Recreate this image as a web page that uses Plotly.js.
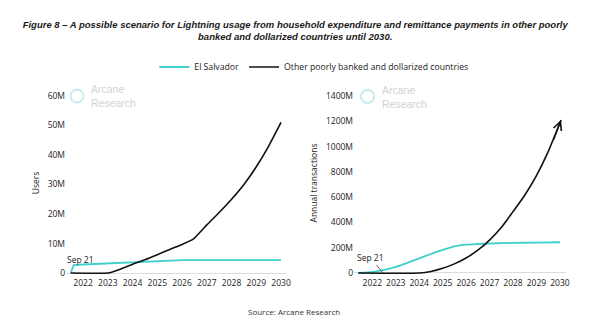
<!DOCTYPE html>
<html>
<head>
<meta charset="utf-8">
<script src="https://cdn.plot.ly/plotly-3.0.1.min.js"></script>
<style>html,body{margin:0;padding:0;background:#fff}#chart{width:600px;height:323px}</style>
</head>
<body>
<div id="chart"></div>
<script>
// ---- data ----
const seriesNames = ["El Salvador", "Other poorly banked and dollarized countries"];
const yearTicks = [2022, 2023, 2024, 2025, 2026, 2027, 2028, 2029, 2030];

// Left panel: users
const usersSvX = [2021.5, 2021.62, 2022, 2023, 2024, 2025, 2025.4, 2026, 2027, 2028, 2029, 2030];
const usersSvY = [0, 2.7e6, 2.9e6, 3.3e6, 3.7e6, 4.1e6, 4.3e6, 4.35e6, 4.4e6, 4.4e6, 4.4e6, 4.4e6];
const usersOtherX = [2021.5, 2023, 2023.5, 2024, 2024.5, 2025, 2025.5, 2026, 2026.45, 2027, 2027.5, 2028, 2028.5, 2029, 2029.5, 2030];
const usersOtherY = [0, 0, 1.3e6, 3.0e6, 4.5e6, 6.2e6, 8.0e6, 9.7e6, 11.5e6, 16.3e6, 20.5e6, 25e6, 30e6, 36e6, 43e6, 51e6];
const usersTickVals = [0, 10e6, 20e6, 30e6, 40e6, 50e6, 60e6];
const usersTickText = ["0", "10M", "20M", "30M", "40M", "50M", "60M"];

// Right panel: annual transactions
const txSvX = [2021.4, 2022, 2022.5, 2023, 2023.5, 2024, 2024.5, 2025, 2025.5, 2026, 2026.5, 2027, 2028, 2029, 2030];
const txSvY = [0, 8e6, 25e6, 48e6, 80e6, 116e6, 150e6, 182e6, 210e6, 224e6, 229e6, 233e6, 238e6, 240e6, 243e6];
const txOtherX = [2021.4, 2024, 2024.5, 2025, 2025.5, 2026, 2026.5, 2027, 2027.5, 2028, 2028.5, 2029, 2029.5, 2030.05];
const txOtherY = [0, 0, 12e6, 37e6, 72e6, 118e6, 180e6, 260e6, 360e6, 485e6, 615e6, 770e6, 960e6, 1210e6];
const txTickVals = [0, 200e6, 400e6, 600e6, 800e6, 1000e6, 1200e6, 1400e6];
const txTickText = ["0", "200M", "400M", "600M", "800M", "1000M", "1200M", "1400M"];

const sepLabel = "Sep 21";
const sepLeaderX = 2022.45;

// ---- styling ----
const CYAN = "#3fcfcc";
const BLACK = "#111111";
const FONT = "Open Sans, Noto Sans, sans-serif";
const TXT = "#222222";
const W = 600, H = 323;
const px = v => v / W;
const py = v => 1 - v / H;

const traces = [
  {x: usersSvX, y: usersSvY, type: "scatter", mode: "lines", name: seriesNames[0],
   line: {color: CYAN, width: 1.8}, xaxis: "x", yaxis: "y", legendgroup: "sv"},
  {x: usersOtherX, y: usersOtherY, type: "scatter", mode: "lines", name: seriesNames[1],
   line: {color: BLACK, width: 1.6, shape: "spline", smoothing: 0.4}, xaxis: "x", yaxis: "y", legendgroup: "ot"},
  {x: txSvX, y: txSvY, type: "scatter", mode: "lines", name: seriesNames[0], showlegend: false,
   line: {color: CYAN, width: 1.8, shape: "spline", smoothing: 0.6}, xaxis: "x2", yaxis: "y2", legendgroup: "sv"},
  {x: txOtherX, y: txOtherY, type: "scatter", mode: "lines", name: seriesNames[1], showlegend: false,
   line: {color: BLACK, width: 1.6, shape: "spline", smoothing: 0.6}, xaxis: "x2", yaxis: "y2", legendgroup: "ot"}
];

const tickFont = {family: FONT, size: 8.5, color: TXT};
const xCommon = {tickvals: yearTicks, ticktext: yearTicks.map(String), showgrid: false, zeroline: false,
  showline: false, ticks: "", tickfont: tickFont, fixedrange: true};
const yCommon = {showgrid: false, zeroline: true, zerolinecolor: "#dcdcdc", zerolinewidth: 1,
  showline: false, ticks: "", tickfont: tickFont, fixedrange: true};

const lastTx = txOtherX.length - 1;

const layout = {
  width: W, height: H,
  margin: {l: 0, r: 0, t: 0, b: 0},
  paper_bgcolor: "#ffffff", plot_bgcolor: "#ffffff",
  showlegend: true,
  title: {
    text: "Figure 8 – A possible scenario for Lightning usage from household expenditure and remittance payments in other poorly<br>banked and dollarized countries until 2030.",
    font: {family: "Liberation Sans, Arial, sans-serif", size: 9.5, color: "#1a1a1a", weight: 700, style: "italic"},
    x: 0.492, xanchor: "center", yref: "container", y: 1 - 28 / H, yanchor: "middle"
  },
  legend: {orientation: "h", x: 0.523, xanchor: "center", y: py(67), yanchor: "middle",
    font: {family: FONT, size: 8.7, color: TXT}, itemwidth: 30, tracegroupgap: 0, bgcolor: "rgba(0,0,0,0)"},
  xaxis: Object.assign({}, xCommon, {domain: [px(66), px(286)], range: [2021.31, 2030.2], anchor: "y"}),
  yaxis: Object.assign({}, yCommon, {domain: [1 - 276 / H, 1 - 90 / H], range: [-1e6, 62e6], anchor: "x",
    tickvals: usersTickVals, ticktext: usersTickText,
    title: {text: "Users", font: {family: FONT, size: 8.5, color: TXT}, standoff: 6}}),
  xaxis2: Object.assign({}, xCommon, {domain: [px(354), px(566)], range: [2021.22, 2030.26], anchor: "y2"}),
  yaxis2: Object.assign({}, yCommon, {domain: [1 - 276 / H, 1 - 90 / H], range: [-24e6, 1447e6], anchor: "x2",
    tickvals: txTickVals, ticktext: txTickText,
    title: {text: "Annual transactions", font: {family: FONT, size: 8.5, color: TXT}, standoff: 6}}),
  shapes: [
    {type: "circle", xref: "paper", yref: "paper", x0: px(70.5), x1: px(83.5), y0: py(102.5), y1: py(89.5),
     line: {color: "#c4ecea", width: 2}},
    {type: "circle", xref: "paper", yref: "paper", x0: px(361), x1: px(374), y0: py(103), y1: py(90),
     line: {color: "#c4ecea", width: 2}}
  ],
  annotations: [
    {xref: "paper", yref: "paper", x: px(89), y: py(96), xanchor: "left", yanchor: "middle", align: "left",
     text: "Arcane<br>Research", showarrow: false, font: {family: "Liberation Sans, Arial, sans-serif", size: 10.5, color: "#d2d2d2"}},
    {xref: "paper", yref: "paper", x: px(380), y: py(96.5), xanchor: "left", yanchor: "middle", align: "left",
     text: "Arcane<br>Research", showarrow: false, font: {family: "Liberation Sans, Arial, sans-serif", size: 10.5, color: "#d2d2d2"}},
    {xref: "x", yref: "y", x: usersSvX[0], y: 0, xanchor: "left", yanchor: "middle", xshift: -6, yshift: 14,
     text: sepLabel, showarrow: false, font: {family: FONT, size: 8.5, color: TXT}},
    {xref: "x2", yref: "y2", x: sepLeaderX, y: 0, text: sepLabel, showarrow: true, arrowhead: 0,
     arrowwidth: 0.8, arrowcolor: "#333", ax: -12, ay: -15, standoff: 0, startstandoff: 0,
     font: {family: FONT, size: 8.5, color: TXT}},
    {xref: "x2", yref: "y2", x: txOtherX[lastTx], y: txOtherY[lastTx], text: "", showarrow: true,
     arrowhead: 5, arrowsize: 1.1, arrowwidth: 1.5, arrowcolor: BLACK, ax: -8, ay: 21, standoff: 0},
    {xref: "paper", yref: "paper", x: px(294), y: py(311), xanchor: "center", yanchor: "middle",
     text: "Source: Arcane Research", showarrow: false, font: {family: FONT, size: 8, color: "#333"}}
  ]
};

Plotly.newPlot("chart", traces, layout, {displayModeBar: false, staticPlot: true});
</script>
</body>
</html>
